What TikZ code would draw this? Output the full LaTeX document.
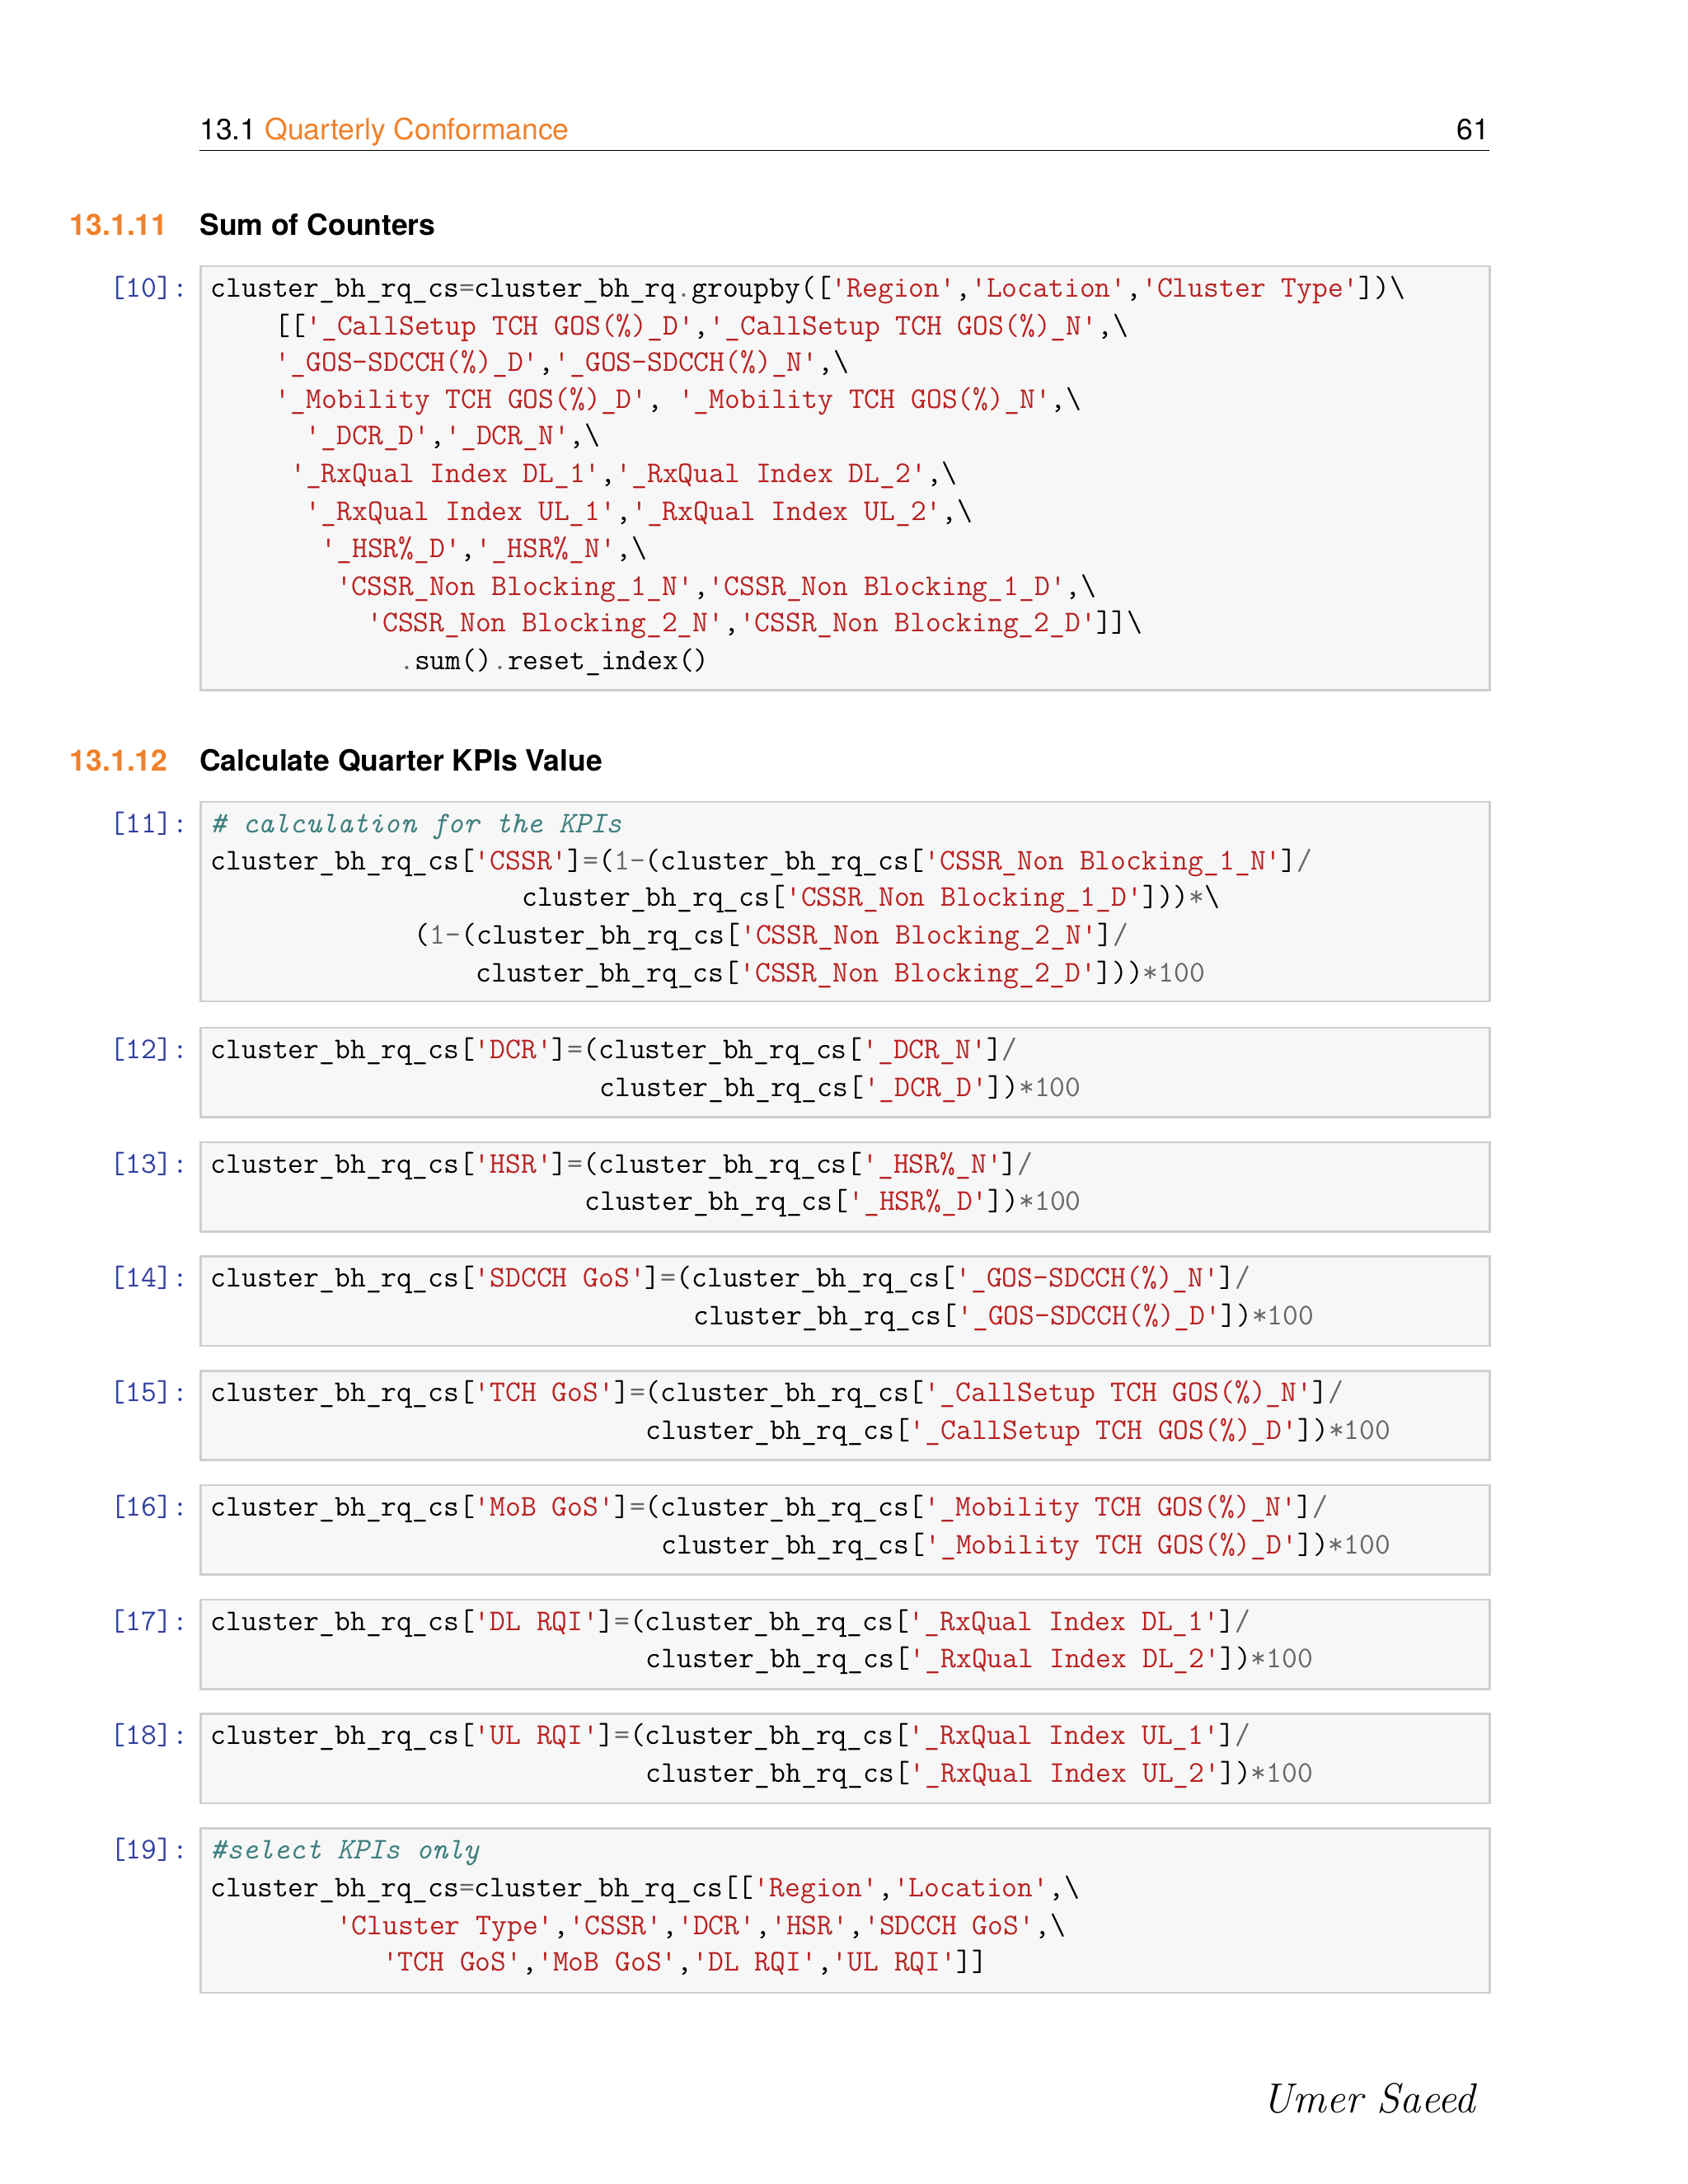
\documentclass[tikz,border=0pt]{standalone}
\usepackage{fontspec}
\newfontfamily\hd{TeX Gyre Heros}
\definecolor{str}{HTML}{BA2121}
\definecolor{opc}{HTML}{666666}
\definecolor{cmt}{HTML}{408080}
\definecolor{prm}{HTML}{303F9F}
\definecolor{org}{HTML}{F0802A}
\definecolor{boxf}{HTML}{F7F7F7}
\definecolor{boxd}{HTML}{CFCFCF}
\newcommand\Q[1]{{\color{str}\textquotesingle#1\textquotesingle}}
\newcommand\G[1]{{\color{opc}#1}}
\newcommand\bs{\textbackslash}
\tikzset{
 cl/.style={anchor=base west,inner sep=0pt,font=\fontsize{21.6}{24}\selectfont\ttfamily},
 pr/.style={anchor=base east,inner sep=0pt,text=prm,font=\fontsize{21.6}{24}\selectfont\ttfamily},
 cb/.style={draw=boxd,fill=boxf,line width=1.5pt},
 sec/.style={anchor=base west,inner sep=0pt,font=\hd\bfseries\fontsize{21}{24}\selectfont},
}
\begin{document}
\begin{tikzpicture}[x=1pt,y=-1pt]
\useasboundingbox[fill=white] (0,0) rectangle (1210,1566);
% header
\node[anchor=base west,inner sep=0pt,font=\hd\fontsize{21}{24}\selectfont] (hdr) at (143,100) {13.1 {\color{org}Quarterly Conformance}};
\node[anchor=base east,inner sep=0pt,font=\hd\fontsize{21}{24}\selectfont] (pg) at (1068,100) {61};
\draw[line width=0.8pt] (143,108) -- (1068,108);
\node[sec,text=org] (s1n) at (50,169) {13.1.11};
\node[sec] (s1) at (143,169) {Sum of Counters};
\node[sec,text=org] (s2n) at (50,553) {13.1.12};
\node[sec] (s2) at (143,553) {Calculate Quarter KPIs Value};
% boxes
\draw[cb] (144,191) rectangle (1068,495);
\draw[cb] (144,575) rectangle (1068,718);
\foreach \t in {737,819,901,983,1065,1147,1229} \draw[cb] (144,\t) rectangle (1068,\t+64);
\draw[cb] (144,1311) rectangle (1068,1429);
% [10]
\node[pr] (p10) at (135,213) {[10]:};
\node[cl] at (151,213) {cluster\_bh\_rq\_cs\G{=}cluster\_bh\_rq\G{.}groupby([\Q{Region},\Q{Location},\Q{Cluster Type}])\bs};
\node[cl] at (197,240) {[[\Q{\_CallSetup TCH GOS(\%)\_D},\Q{\_CallSetup TCH GOS(\%)\_N},\bs};
\node[cl] at (197,266) {\Q{\_GOS-SDCCH(\%)\_D},\Q{\_GOS-SDCCH(\%)\_N},\bs};
\node[cl] at (197,293) {\Q{\_Mobility TCH GOS(\%)\_D}, \Q{\_Mobility TCH GOS(\%)\_N},\bs};
\node[cl] at (219,319) {\Q{\_DCR\_D},\Q{\_DCR\_N},\bs};
\node[cl] at (208,346) {\Q{\_RxQual Index DL\_1},\Q{\_RxQual Index DL\_2},\bs};
\node[cl] at (219,373) {\Q{\_RxQual Index UL\_1},\Q{\_RxQual Index UL\_2},\bs};
\node[cl] at (230,400) {\Q{\_HSR\%\_D},\Q{\_HSR\%\_N},\bs};
\node[cl] at (241,427) {\Q{CSSR\_Non Blocking\_1\_N},\Q{CSSR\_Non Blocking\_1\_D},\bs};
\node[cl] at (263,453) {\Q{CSSR\_Non Blocking\_2\_N},\Q{CSSR\_Non Blocking\_2\_D}]]\bs};
\node[cl] at (286,480) {\G{.}sum()\G{.}reset\_index()};
% [11]
\node[pr] (p11) at (135,597) {[11]:};
\node[cl,text=cmt] at (151,597) {\itshape\# calculation for the KPIs};
\node[cl] at (151,624) {cluster\_bh\_rq\_cs[\Q{CSSR}]\G{=}(\G{1-}(cluster\_bh\_rq\_cs[\Q{CSSR\_Non Blocking\_1\_N}]\G{/}};
\node[cl] at (374,650) {cluster\_bh\_rq\_cs[\Q{CSSR\_Non Blocking\_1\_D}]))\G{*}\bs};
\node[cl] at (297,677) {(\G{1-}(cluster\_bh\_rq\_cs[\Q{CSSR\_Non Blocking\_2\_N}]\G{/}};
\node[cl] at (341,704) {cluster\_bh\_rq\_cs[\Q{CSSR\_Non Blocking\_2\_D}]))\G{*100}};
% [12]-[18]
\newcommand\two[6]{%
 \node[pr] at (135,#1+22) {[#2]:};
 \node[cl] at (151,#1+22) {cluster\_bh\_rq\_cs[\Q{#3}]\G{=}(cluster\_bh\_rq\_cs[\Q{#4}]\G{/}};
 \node[cl] at (#6,#1+49) {cluster\_bh\_rq\_cs[\Q{#5}])\G{*100}};}
\two{737}{12}{DCR}{\_DCR\_N}{\_DCR\_D}{430}
\two{819}{13}{HSR}{\_HSR\%\_N}{\_HSR\%\_D}{419}
\two{901}{14}{SDCCH GoS}{\_GOS-SDCCH(\%)\_N}{\_GOS-SDCCH(\%)\_D}{497}
\two{983}{15}{TCH GoS}{\_CallSetup TCH GOS(\%)\_N}{\_CallSetup TCH GOS(\%)\_D}{463}
\two{1065}{16}{MoB GoS}{\_Mobility TCH GOS(\%)\_N}{\_Mobility TCH GOS(\%)\_D}{474}
\two{1147}{17}{DL RQI}{\_RxQual Index DL\_1}{\_RxQual Index DL\_2}{463}
\two{1229}{18}{UL RQI}{\_RxQual Index UL\_1}{\_RxQual Index UL\_2}{463}
% [19]
\node[pr] (p19) at (135,1333) {[19]:};
\node[cl,text=cmt] at (151,1333) {\itshape\#select KPIs only};
\node[cl] at (151,1360) {cluster\_bh\_rq\_cs\G{=}cluster\_bh\_rq\_cs[[\Q{Region},\Q{Location},\bs};
\node[cl] at (241,1387) {\Q{Cluster Type},\Q{CSSR},\Q{DCR},\Q{HSR},\Q{SDCCH GoS},\bs};
\node[cl] at (274,1413) {\Q{TCH GoS},\Q{MoB GoS},\Q{DL RQI},\Q{UL RQI}]]};
% signature
\node[anchor=base east,inner sep=0pt,font=\rmfamily\itshape\fontsize{30}{34}\selectfont] (sig) at (1058,1515) {Umer Saeed};
\end{tikzpicture}
\end{document}
